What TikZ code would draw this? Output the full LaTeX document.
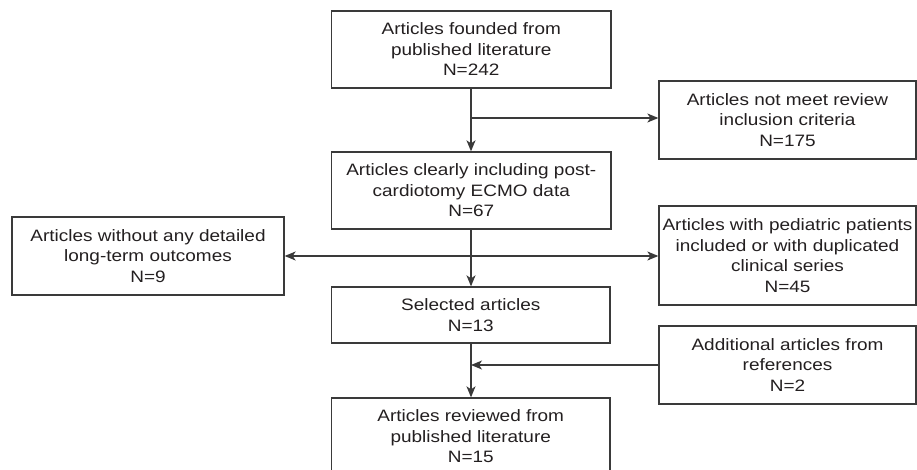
\documentclass[tikz,border=0pt]{standalone}
\usepackage{fontspec}
\setmainfont{Liberation Sans}[FakeStretch=1.15]
\usetikzlibrary{arrows.meta}
\definecolor{linegray}{HTML}{3A3A3A}
\definecolor{txt}{HTML}{231F20}
\begin{document}
\begin{tikzpicture}[x=1pt,y=-1pt,
  box/.style={draw=linegray, line width=1.3pt, inner sep=0pt, align=center,
    text=txt, font=\fontsize{16.5pt}{20.5pt}\selectfont},
  conn/.style={draw=linegray, line width=1.3pt},
  arr/.style={conn, -{Stealth[length=11pt,width=9pt,inset=3pt]}}]
\useasboundingbox (0,0) rectangle (917,470);
\node[box, minimum width=279.5pt, minimum height=77pt] (b1) at (471.25,49.5)
  {Articles founded from\\published literature\\N=242};
\node[box, minimum width=257pt, minimum height=78pt] (b2) at (787.5,120)
  {Articles not meet review\\inclusion criteria\\N=175};
\node[box, minimum width=279.5pt, minimum height=77pt] (b3) at (471.25,190.5)
  {Articles clearly including post-\\cardiotomy ECMO data\\N=67};
\node[box, minimum width=272pt, minimum height=78pt] (b4) at (148,256)
  {Articles without any detailed\\long-term outcomes\\N=9};
\node[box, minimum width=257pt, minimum height=99pt] (b5) at (787.5,255.5)
  {Articles with pediatric patients\\included or with duplicated\\clinical series\\N=45};
\node[box, minimum width=278.5pt, minimum height=56pt] (b6) at (470.75,315)
  {Selected articles\\N=13};
\node[box, minimum width=257pt, minimum height=78pt] (b7) at (787.5,365)
  {Additional articles from\\references\\N=2};
\node[box, minimum width=278.5pt, minimum height=77pt] (b8) at (470.75,436.5)
  {Articles reviewed from\\published literature\\N=15};
\coordinate (j1) at (471,118);
\coordinate (j2) at (471,256);
\coordinate (j3) at (471,365);
\draw[arr] (b1.south -| j1) -- (b3.north -| j1);
\draw[arr] (j1) -- (j1 -| b2.west);
\draw[arr] (b3.south -| j2) -- (b6.north -| j2);
\draw[arr] (j2) -- (j2 -| b4.east);
\draw[arr] (j2) -- (j2 -| b5.west);
\draw[arr] (b6.south -| j3) -- (b8.north -| j3);
\draw[arr] (b7.west |- j3) -- (j3);
\end{tikzpicture}
\end{document}
